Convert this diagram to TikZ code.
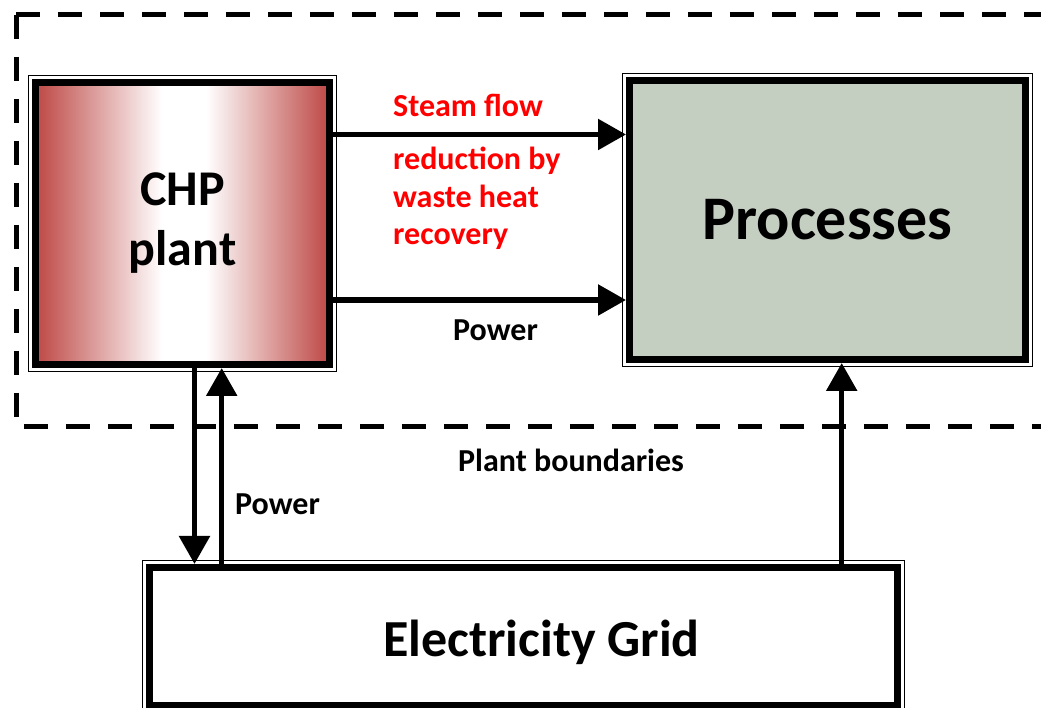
\documentclass[tikz,border=0pt]{standalone}
\usepackage{fontspec}
\setmainfont{Carlito}
\usetikzlibrary{arrows.meta}
\definecolor{chpred}{RGB}{192,80,77}
\definecolor{procgreen}{RGB}{196,207,194}
\pgfdeclarehorizontalshading{chpshade}{100bp}{color(0bp)=(chpred); color(26bp)=(chpred);
  color(46.5bp)=(white); color(54bp)=(white); color(74bp)=(chpred); color(100bp)=(chpred)}
\tikzset{
  bloc/.style={draw, rectangle, line width=7pt, inner sep=0pt, align=center},
  cadre/.style={line width=1.6pt},
  fleche/.style={line width=5.5pt, -{Triangle[length=28pt,width=30pt]}},
  bord/.style={line width=5pt, dash pattern=on 24pt off 18pt},
  etiq/.style={inner sep=0pt, font=\fontsize{32}{37.5}\selectfont\bfseries},
}
\begin{document}
\begin{tikzpicture}[x=1pt, y=1pt]
    \useasboundingbox (0,0) rectangle (1041,708);

    % Limites de l'usine
    \draw[bord] (16,693) -- (1060,693);
    \draw[bord] (16,693) -- (16,281) -- (1060,281);

    % Bloc CHP plant
    \node[bloc, minimum width=294pt, minimum height=282pt, shading=chpshade,
          font=\fontsize{50}{60}\selectfont\bfseries] (chp) at (182.5,484.5) {CHP\\plant};
    \draw[cadre] ([shift={(-3.5,3.5)}]chp.north west) rectangle ([shift={(3.5,-3.5)}]chp.south east);

    % Bloc Processes
    \node[bloc, minimum width=396pt, minimum height=279pt, fill=procgreen,
          font=\fontsize{62}{74}\selectfont\bfseries] (proc) at (827.5,488) {Processes};
    \draw[cadre] ([shift={(-3.5,3.5)}]proc.north west) rectangle ([shift={(3.5,-3.5)}]proc.south east);

    % Bloc Electricity Grid
    \node[bloc, minimum width=748pt, minimum height=138pt, fill=white] (grid) at (523.5,71.5) {};
    \draw[cadre] ([shift={(-3.5,3.5)}]grid.north west) rectangle ([shift={(3.5,-3.5)}]grid.south east);
    \node[anchor=base west, inner sep=0pt, font=\fontsize{52}{62}\selectfont\bfseries] (gridtxt) at (383,51) {Electricity Grid};

    % Textes
    \node[etiq, anchor=base west, text=red] (steamtxt) at (393,591) {Steam flow};
    \node[etiq, anchor=north west, text=red, align=left] (redtxt) at (393,561) {reduction by\\waste heat\\recovery};
    \node[etiq, anchor=base west] (powertxt) at (453,367) {Power};
    \node[etiq, anchor=base west] (boundtxt) at (458,236) {Plant boundaries};
    \node[etiq, anchor=base west] (gridpowertxt) at (235,193) {Power};

    % Relations
    \draw[fleche] ([yshift=89pt]chp.east) -- ([yshift=89pt]chp.east -| proc.west);
    \draw[fleche] ([yshift=-76.5pt]chp.east) -- ([yshift=-76.5pt]chp.east -| proc.west);
    \draw[fleche] ([xshift=12pt]chp.south) -- ([xshift=12pt]chp.south |- grid.north);
    \draw[fleche] ([xshift=39.2pt]chp.south |- grid.north) -- ([xshift=39.2pt]chp.south);
    \draw[fleche] ([xshift=14.2pt]proc.south |- grid.north) -- ([xshift=14.2pt]proc.south);

\end{tikzpicture}
\end{document}
